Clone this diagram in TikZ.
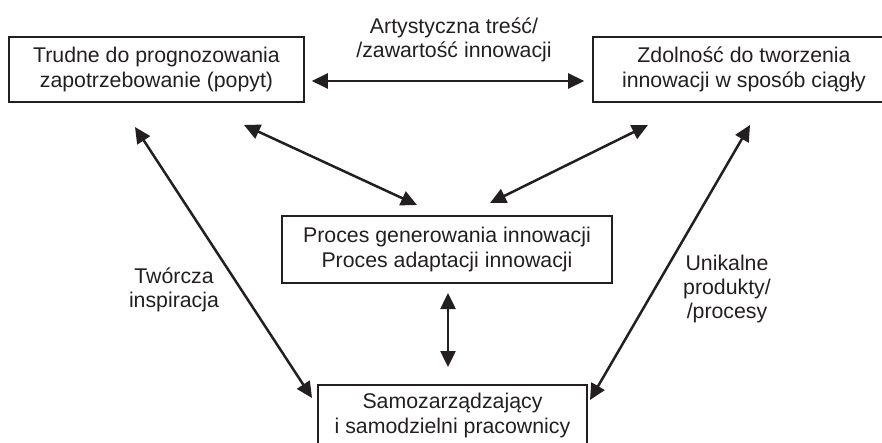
\documentclass[tikz,border=0pt]{standalone}
\usepackage{fontspec}
\setmainfont{Liberation Sans}
\usetikzlibrary{arrows.meta}
\definecolor{ink}{HTML}{231F20}
\begin{document}
\begin{tikzpicture}[x=1pt,y=-1pt,
  box/.style={draw=ink, line width=1.6pt, inner sep=0pt, align=center,
    text=ink, font=\fontsize{21.3}{25}\selectfont},
  lbl/.style={inner sep=0pt, align=center, text=ink,
    font=\fontsize{21.3}{24}\selectfont},
  arr/.style={draw=ink, line width=2.5pt,
    {Triangle[length=16pt,width=15pt]}-{Triangle[length=16pt,width=15pt]}}]
\useasboundingbox (0,0) rectangle (882,443);
\clip (0,0) rectangle (882,443);

% boxes
\node[box, minimum width=295pt, minimum height=65pt] (demand) at (156.5,69.5)
  {Trudne do prognozowania\\zapotrzebowanie (popyt)};
\node[box, minimum width=302pt, minimum height=65pt] (ability) at (744,69.5)
  {Zdolność do tworzenia\\innowacji w sposób ciągły};
\node[box, minimum width=330pt, minimum height=67pt] (process) at (447,249.5)
  {Proces generowania innowacji\\Proces adaptacji innowacji};
\node[box, minimum width=269pt, minimum height=60pt] (staff) at (452.5,415)
  {Samozarządzający\\i samodzielni pracownicy};

% labels
\node[lbl] (content) at (454,39.5) {Artystyczna treść/\\/zawartość innowacji};
\node[lbl] (inspire) at (174,289.5) {Twórcza\\inspiracja};
\node[lbl] (unique) at (727,288.5) {Unikalne\\produkty/\\/procesy};

% arrow end points next to the boxes
\coordinate (dR) at ([xshift=7pt,yshift=-11.5pt]demand.east);
\coordinate (aL) at ([xshift=-8pt,yshift=-11.5pt]ability.west);
\coordinate (dS1) at (135,127);
\coordinate (dS2) at (244,125);
\coordinate (aS1) at (648,125);
\coordinate (aS2) at (750,125);
\coordinate (pN1) at (417,205);
\coordinate (pN2) at (490,203);
\coordinate (pS) at (448,293);
\coordinate (sN) at (448,367);
\coordinate (sL) at (312,398);
\coordinate (sR) at (590,400);

% connectors
\draw[arr] (dR) -- (aL);
\draw[arr] (dS2) -- (pN1);
\draw[arr] (aS1) -- (pN2);
\draw[arr] (pS) -- (sN);
\draw[arr] (dS1) -- (sL);
\draw[arr] (aS2) -- (sR);
\end{tikzpicture}
\end{document}
